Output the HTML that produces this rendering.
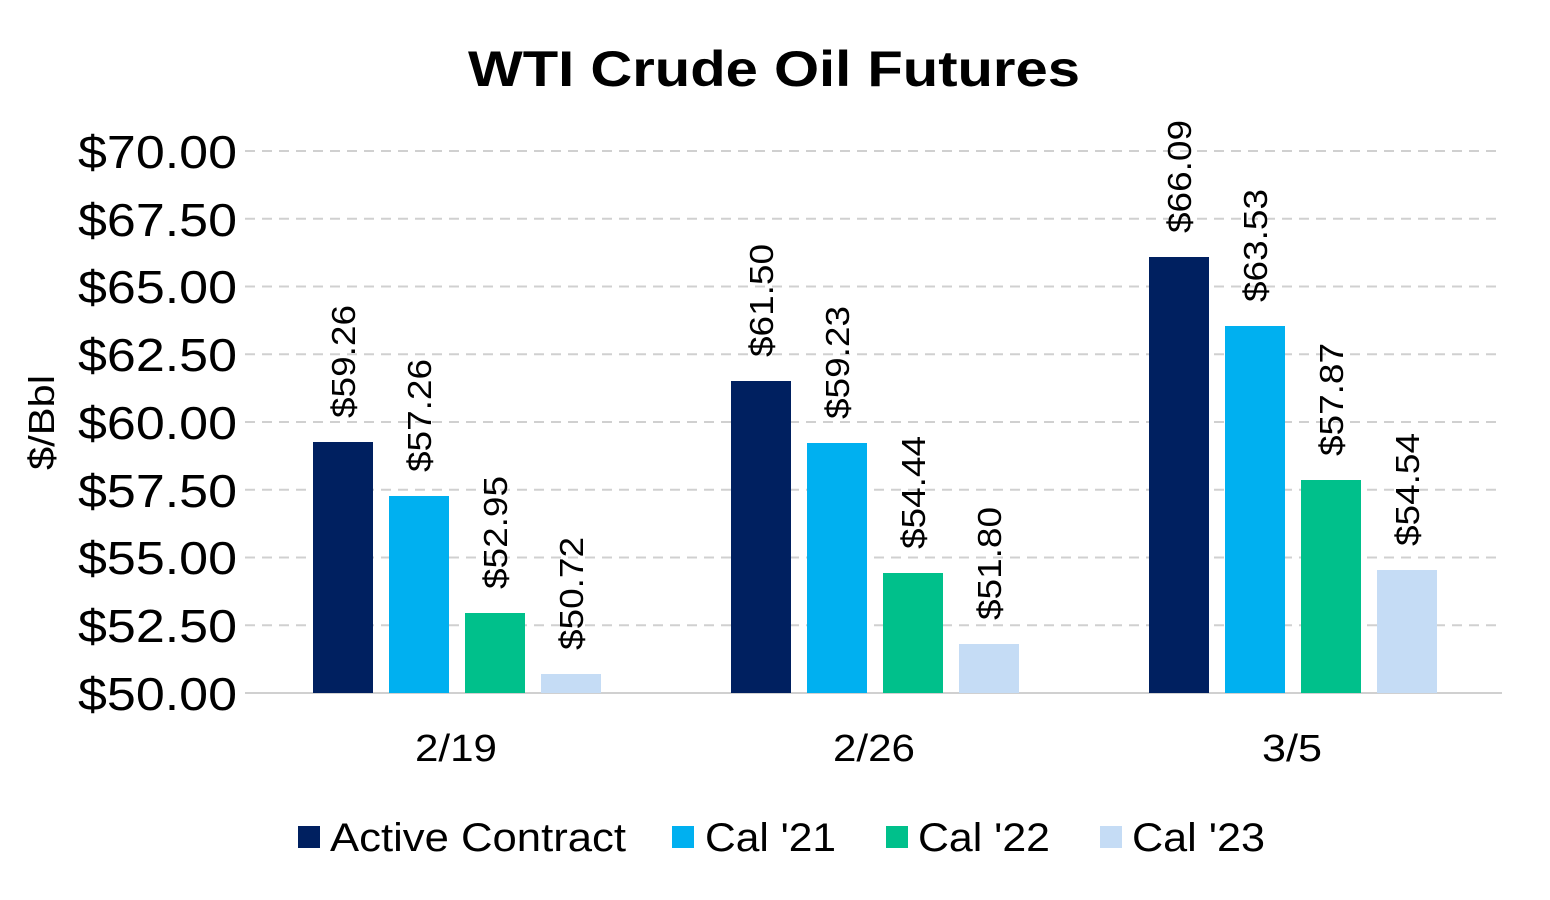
<!DOCTYPE html>
<html><head><meta charset="utf-8"><style>
html,body{margin:0;padding:0;background:#fff;}
svg{display:block;font-family:"Liberation Sans",Arial,sans-serif;}
</style></head><body>
<svg width="1550" height="900" viewBox="0 0 1550 900">
<text x="468" y="86" font-size="50" font-weight="bold" textLength="612" lengthAdjust="spacingAndGlyphs">WTI Crude Oil Futures</text>
<g stroke="#d0d0d0" stroke-width="2" stroke-dasharray="10,7">
<line x1="245" x2="1502" y1="151" y2="151"/>
<line x1="245" x2="1502" y1="218.75" y2="218.75"/>
<line x1="245" x2="1502" y1="286.5" y2="286.5"/>
<line x1="245" x2="1502" y1="354.25" y2="354.25"/>
<line x1="245" x2="1502" y1="422" y2="422"/>
<line x1="245" x2="1502" y1="489.75" y2="489.75"/>
<line x1="245" x2="1502" y1="557.5" y2="557.5"/>
<line x1="245" x2="1502" y1="625.25" y2="625.25"/>
</g>
<line x1="245" x2="1502" y1="693" y2="693" stroke="#d0d0d0" stroke-width="2"/>
<g font-size="46">
<text x="78" y="168" textLength="159" lengthAdjust="spacingAndGlyphs">$70.00</text>
<text x="78" y="236" textLength="159" lengthAdjust="spacingAndGlyphs">$67.50</text>
<text x="78" y="303" textLength="159" lengthAdjust="spacingAndGlyphs">$65.00</text>
<text x="78" y="371" textLength="159" lengthAdjust="spacingAndGlyphs">$62.50</text>
<text x="78" y="439" textLength="159" lengthAdjust="spacingAndGlyphs">$60.00</text>
<text x="78" y="507" textLength="159" lengthAdjust="spacingAndGlyphs">$57.50</text>
<text x="78" y="574" textLength="159" lengthAdjust="spacingAndGlyphs">$55.00</text>
<text x="78" y="642" textLength="159" lengthAdjust="spacingAndGlyphs">$52.50</text>
<text x="78" y="710" textLength="159" lengthAdjust="spacingAndGlyphs">$50.00</text>
</g>
<text transform="translate(54,470) rotate(-90)" font-size="36" textLength="95" lengthAdjust="spacingAndGlyphs">$/Bbl</text>
<g>
<rect x="313" y="442" width="60" height="251" fill="#002060"/>
<rect x="389" y="496" width="60" height="197" fill="#00B0F0"/>
<rect x="465" y="613" width="60" height="80" fill="#00C08B"/>
<rect x="541" y="674" width="60" height="19" fill="#C5DCF5"/>
<rect x="731" y="381" width="60" height="312" fill="#002060"/>
<rect x="807" y="443" width="60" height="250" fill="#00B0F0"/>
<rect x="883" y="573" width="60" height="120" fill="#00C08B"/>
<rect x="959" y="644" width="60" height="49" fill="#C5DCF5"/>
<rect x="1149" y="257" width="60" height="436" fill="#002060"/>
<rect x="1225" y="326" width="60" height="367" fill="#00B0F0"/>
<rect x="1301" y="480" width="60" height="213" fill="#00C08B"/>
<rect x="1377" y="570" width="60" height="123" fill="#C5DCF5"/>
</g>
<g font-size="33">
<text transform="translate(355,418) rotate(-90)" textLength="113" lengthAdjust="spacingAndGlyphs">$59.26</text>
<text transform="translate(431,472) rotate(-90)" textLength="113" lengthAdjust="spacingAndGlyphs">$57.26</text>
<text transform="translate(507,589) rotate(-90)" textLength="113" lengthAdjust="spacingAndGlyphs">$52.95</text>
<text transform="translate(583,650) rotate(-90)" textLength="113" lengthAdjust="spacingAndGlyphs">$50.72</text>
<text transform="translate(773,357) rotate(-90)" textLength="113" lengthAdjust="spacingAndGlyphs">$61.50</text>
<text transform="translate(849,419) rotate(-90)" textLength="113" lengthAdjust="spacingAndGlyphs">$59.23</text>
<text transform="translate(925,549) rotate(-90)" textLength="113" lengthAdjust="spacingAndGlyphs">$54.44</text>
<text transform="translate(1001,620) rotate(-90)" textLength="113" lengthAdjust="spacingAndGlyphs">$51.80</text>
<text transform="translate(1191,233) rotate(-90)" textLength="113" lengthAdjust="spacingAndGlyphs">$66.09</text>
<text transform="translate(1267,302) rotate(-90)" textLength="113" lengthAdjust="spacingAndGlyphs">$63.53</text>
<text transform="translate(1343,456) rotate(-90)" textLength="113" lengthAdjust="spacingAndGlyphs">$57.87</text>
<text transform="translate(1419,546) rotate(-90)" textLength="113" lengthAdjust="spacingAndGlyphs">$54.54</text>
</g>
<g font-size="38">
<text x="415" y="761" textLength="82" lengthAdjust="spacingAndGlyphs">2/19</text>
<text x="833" y="761" textLength="82" lengthAdjust="spacingAndGlyphs">2/26</text>
<text x="1262" y="761" textLength="60" lengthAdjust="spacingAndGlyphs">3/5</text>
</g>
<g font-size="40">
<rect x="298" y="826" width="22" height="22" fill="#002060"/>
<text x="330" y="851" textLength="296" lengthAdjust="spacingAndGlyphs">Active Contract</text>
<rect x="672" y="826" width="22" height="22" fill="#00B0F0"/>
<text x="705" y="851" textLength="131" lengthAdjust="spacingAndGlyphs">Cal '21</text>
<rect x="886" y="826" width="22" height="22" fill="#00C08B"/>
<text x="918" y="851" textLength="132" lengthAdjust="spacingAndGlyphs">Cal '22</text>
<rect x="1100" y="826" width="22" height="22" fill="#C5DCF5"/>
<text x="1132" y="851" textLength="133" lengthAdjust="spacingAndGlyphs">Cal '23</text>
</g>
</svg>
</body></html>
